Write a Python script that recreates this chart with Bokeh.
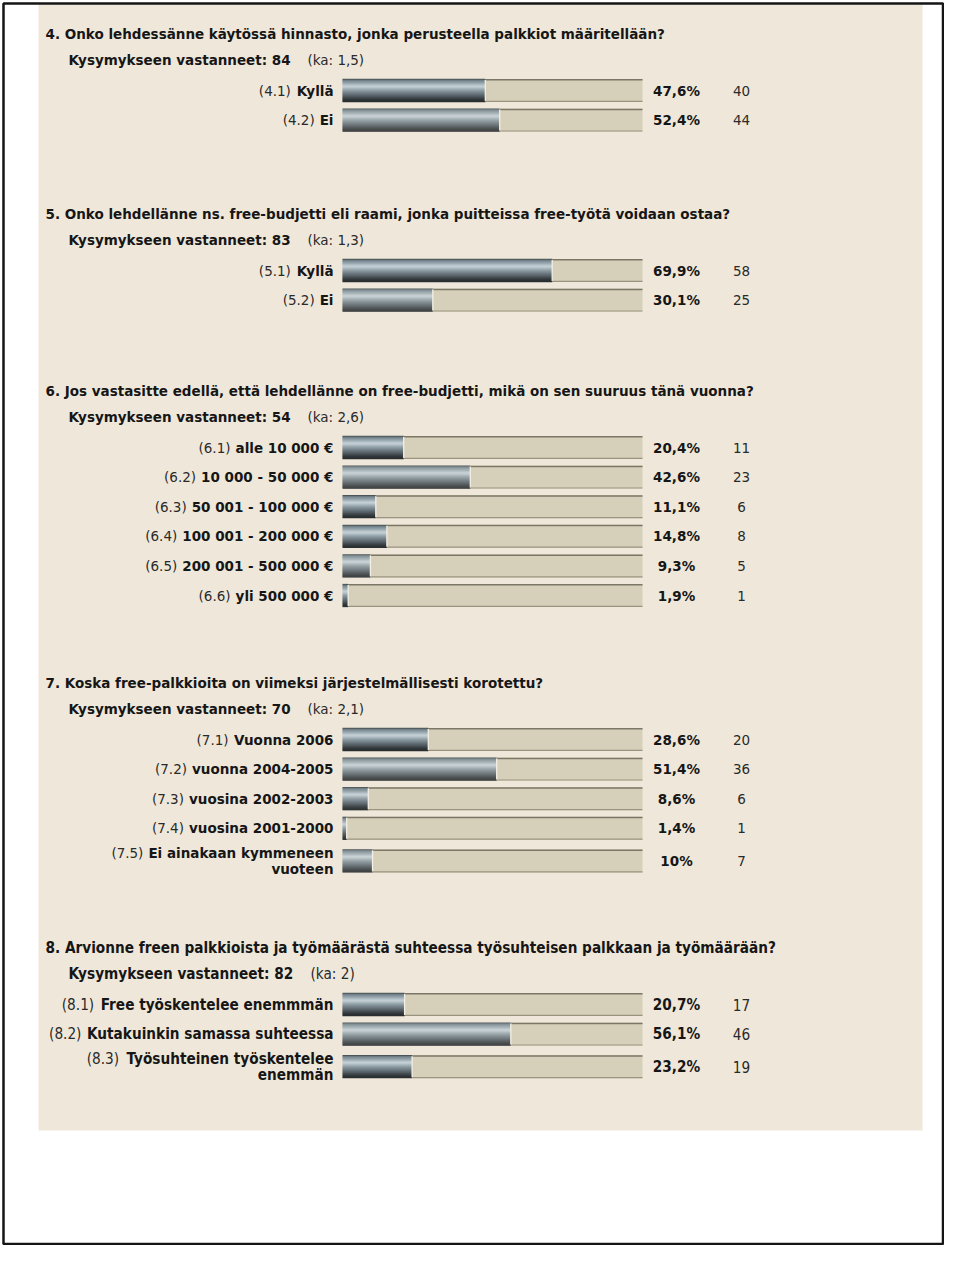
from bokeh.plotting import figure
from bokeh.models import Range1d
from bokeh.core.properties import value
from bokeh.embed import file_html
from bokeh.resources import INLINE

# ---------------- data ----------------
q4_title = "4. Onko lehdessänne käytössä hinnasto, jonka perusteella palkkiot määritellään?"
q4_n = 84
q4_mean = "1,5"
q4_codes = ["(4.1)", "(4.2)"]
q4_labels = ["Kyllä", "Ei"]
q4_pct = [47.6, 52.4]
q4_counts = [40, 44]

q5_title = "5. Onko lehdellänne ns. free-budjetti eli raami, jonka puitteissa free-työtä voidaan ostaa?"
q5_n = 83
q5_mean = "1,3"
q5_codes = ["(5.1)", "(5.2)"]
q5_labels = ["Kyllä", "Ei"]
q5_pct = [69.9, 30.1]
q5_counts = [58, 25]

q6_title = "6. Jos vastasitte edellä, että lehdellänne on free-budjetti, mikä on sen suuruus tänä vuonna?"
q6_n = 54
q6_mean = "2,6"
q6_codes = ["(6.1)", "(6.2)", "(6.3)", "(6.4)", "(6.5)", "(6.6)"]
q6_labels = ["alle 10 000 €", "10 000 - 50 000 €", "50 001 - 100 000 €",
             "100 001 - 200 000 €", "200 001 - 500 000 €", "yli 500 000 €"]
q6_pct = [20.4, 42.6, 11.1, 14.8, 9.3, 1.9]
q6_counts = [11, 23, 6, 8, 5, 1]

q7_title = "7. Koska free-palkkioita on viimeksi järjestelmällisesti korotettu?"
q7_n = 70
q7_mean = "2,1"
q7_codes = ["(7.1)", "(7.2)", "(7.3)", "(7.4)", "(7.5)"]
q7_labels = ["Vuonna 2006", "vuonna 2004-2005", "vuosina 2002-2003",
             "vuosina 2001-2000", "Ei ainakaan kymmeneen\nvuoteen"]
q7_pct = [28.6, 51.4, 8.6, 1.4, 10]
q7_counts = [20, 36, 6, 1, 7]

q8_title = "8. Arvionne freen palkkioista ja työmäärästä suhteessa työsuhteisen palkkaan ja työmäärään?"
q8_n = 82
q8_mean = "2"
q8_codes = ["(8.1)", "(8.2)", "(8.3)"]
q8_labels = ["Free työskentelee enemmmän", "Kutakuinkin samassa suhteessa",
             "Työsuhteinen työskentelee\nenemmän"]
q8_pct = [20.7, 56.1, 23.2]
q8_counts = [17, 46, 19]

sections = [
    (q4_title, q4_n, q4_mean, q4_codes, q4_labels, q4_pct, q4_counts),
    (q5_title, q5_n, q5_mean, q5_codes, q5_labels, q5_pct, q5_counts),
    (q6_title, q6_n, q6_mean, q6_codes, q6_labels, q6_pct, q6_counts),
    (q7_title, q7_n, q7_mean, q7_codes, q7_labels, q7_pct, q7_counts),
    (q8_title, q8_n, q8_mean, q8_codes, q8_labels, q8_pct, q8_counts),
]

# ---------------- layout ----------------
FIG_W, FIG_H = 944, 1245
BAR_L_PX, BAR_W_PX = 342, 300           # bar track in page pixels (0..100 %)
PX = 100.0 / BAR_W_PX                   # data units per pixel


def to_x(px):
    return (px - BAR_L_PX) * PX


SECTION_Y = [33, 213, 390, 682, 947]
SECTION_COND = [False, False, False, False, True]
BAR_H = 23
ROW_STEP = 29.6

BG = "#efe8da"
TRACK = "#d6d0bb"
TXT = "#161616"
TXT2 = "#2a2a2a"
GRAD = ["#4b5458", "#6d7b82", "#7f8e96", "#8c9ba3", "#98a7ae", "#a7b5bc",
        "#b8c5cb", "#c4cfd4", "#bcc8ce", "#adbac1", "#9eacb3", "#909ea5",
        "#84929a", "#7a878e", "#6f7c83", "#657178", "#5b666c", "#515b60",
        "#474f54", "#3d4448", "#343a3d", "#2d3234", "#2a2e30"]

BOLD_W = {' ': .348, '(': .456, ')': .456, ',': .381, '-': .416, '.': .381,
          ':': .400, '?': .580, '%': 1.002, '€': .696,
          'A': .774, 'E': .683, 'F': .683, 'K': .776, 'O': .850, 'T': .683, 'V': .774,
          'a': .675, 'b': .716, 'c': .593, 'd': .716, 'e': .678, 'f': .435, 'g': .716,
          'h': .712, 'i': .343, 'j': .343, 'k': .665, 'l': .343, 'm': 1.042, 'n': .712,
          'o': .687, 'p': .716, 'r': .493, 's': .595, 't': .478, 'u': .712, 'v': .651,
          'w': .923, 'y': .651, 'ä': .675, 'ö': .687}
for d in "0123456789":
    BOLD_W[d] = .696
REG_W = {' ': .318, '(': .390, ')': .390, '.': .318, ',': .318, ':': .337,
         'k': .579, 'a': .613}
for d in "0123456789":
    REG_W[d] = .636


def text_w(s, table, size, cond):
    return sum(table.get(c, .65) for c in s) * size * (0.9 if cond else 1.0)


def fmt_pct(v):
    if float(v).is_integer():
        return "%d%%" % int(v)
    return ("%.1f%%" % v).replace(".", ",")


p = figure(width=FIG_W, height=FIG_H,
           x_range=Range1d(to_x(0), to_x(FIG_W)),
           y_range=Range1d(FIG_H, 0),
           output_backend="svg", toolbar_location=None, min_border=0,
           x_axis_location=None, y_axis_location=None)
p.grid.visible = False
p.background_fill_color = "white"
p.border_fill_color = "white"
p.outline_line_color = None

# beige panel
p.quad(left=to_x(38), right=to_x(922), top=4, bottom=1130,
       fill_color=BG, line_color=None)
# page frame
p.quad(left=to_x(3), right=to_x(FIG_W - 1.5), top=3, bottom=FIG_H - 1.5,
       fill_color=None, line_color="#151515", line_width=2.5)

all_y, all_pct = [], []

for (title, n, mean, codes, labels, pct, counts), ty, cond in zip(sections, SECTION_Y, SECTION_COND):
    fam = "DejaVu Sans Condensed" if cond else "DejaVu Sans"
    fs = 15.2 if cond else 13.5
    fsz = "%gpx" % fs

    # title
    p.text(x=[to_x(45)], y=[ty], text=[title], text_font=value(fam),
           text_font_size=fsz, text_font_style="bold", text_color=TXT,
           text_baseline="middle", text_align="left")
    # subtitle
    sub = "Kysymykseen vastanneet: %d" % n
    p.text(x=[to_x(68)], y=[ty + 26], text=[sub], text_font=value(fam),
           text_font_size=fsz, text_font_style="bold", text_color=TXT,
           text_baseline="middle", text_align="left")
    p.text(x=[to_x(68) + (text_w(sub, BOLD_W, fs, cond) + 16) * PX], y=[ty + 26],
           text=["(ka: %s)" % mean], text_font=value(fam),
           text_font_size=fsz, text_color=TXT2,
           text_baseline="middle", text_align="left")

    # rows
    ys = []
    y = ty + 57
    for lab in labels:
        if "\n" in lab:
            y += 3
        ys.append(y)
        y += ROW_STEP

    lab_x, lab_y, lab_t = [], [], []
    pre_x, pre_y = [], []
    for lab, yc in zip(labels, ys):
        lines = lab.split("\n")
        if len(lines) == 1:
            line_ys = [yc]
        else:
            line_ys = [yc - 8, yc + 8]
        for ln, ly in zip(lines, line_ys):
            lab_x.append(to_x(333))
            lab_y.append(ly)
            lab_t.append(ln)
        pre_x.append(to_x(333) - (text_w(lines[0], BOLD_W, fs, cond) + 5) * PX)
        pre_y.append(line_ys[0])

    p.text(x=lab_x, y=lab_y, text=lab_t, text_font=value(fam), text_font_size=fsz,
           text_font_style="bold", text_color=TXT, text_baseline="middle",
           text_align="right")
    p.text(x=pre_x, y=pre_y, text=codes, text_font=value(fam), text_font_size=fsz,
           text_color=TXT2, text_baseline="middle", text_align="right")

    p.text(x=[to_x(676)] * len(ys), y=ys, text=[fmt_pct(v) for v in pct],
           text_font=value(fam), text_font_size=fsz, text_font_style="bold",
           text_color=TXT, text_baseline="middle", text_align="center")
    p.text(x=[to_x(741)] * len(ys), y=ys, text=[str(c) for c in counts],
           text_font=value(fam), text_font_size=fsz, text_color=TXT2,
           text_baseline="middle", text_align="center")

    all_y += ys
    all_pct += list(pct)

# bar tracks (remaining part)
p.hbar(y=all_y, height=BAR_H, left=all_pct, right=[100] * len(all_pct),
       fill_color=TRACK, line_color=None)
p.segment(x0=all_pct, x1=[100] * len(all_pct),
          y0=[v - BAR_H / 2 + 0.8 for v in all_y], y1=[v - BAR_H / 2 + 0.8 for v in all_y],
          line_color="#7b7665", line_width=1.5)
p.segment(x0=all_pct, x1=[100] * len(all_pct),
          y0=[v + BAR_H / 2 - 0.6 for v in all_y], y1=[v + BAR_H / 2 - 0.6 for v in all_y],
          line_color="#9a947f", line_width=1.2)

# filled part with metallic gradient strips
n_strips = len(GRAD)
strip_h = BAR_H / n_strips
for k, col in enumerate(GRAD):
    p.hbar(y=[v - BAR_H / 2 + (k + 0.5) * strip_h for v in all_y], height=strip_h + 0.3,
           left=[0] * len(all_pct), right=all_pct, fill_color=col, line_color=None)

# light separator at end of fill
p.segment(x0=all_pct, x1=all_pct,
          y0=[v - BAR_H / 2 + 1 for v in all_y], y1=[v + BAR_H / 2 - 1 for v in all_y],
          line_color="#f3efe4", line_width=1.3)

open("out.html", "w").write(file_html(p, INLINE))
